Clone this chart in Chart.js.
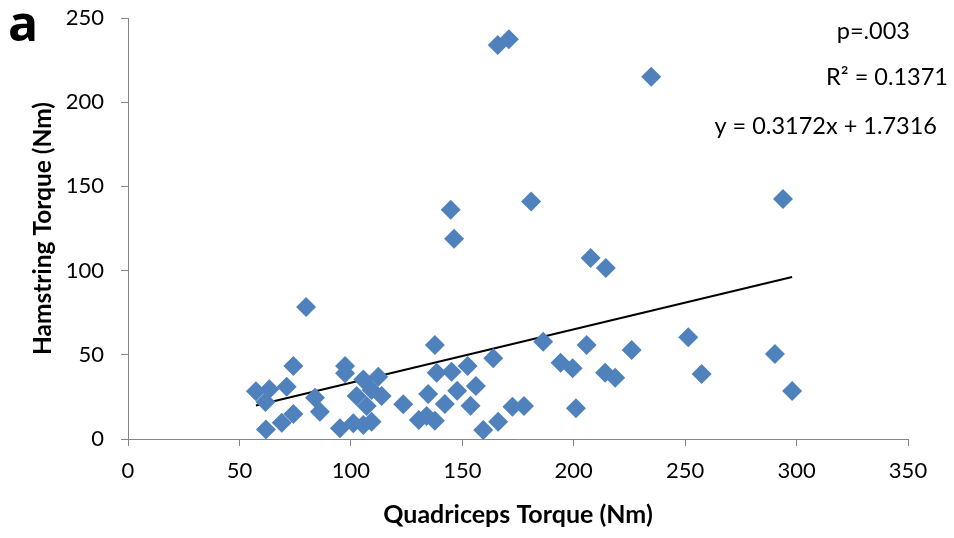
<!DOCTYPE html>
<html>
<head>
<meta charset="utf-8">
<script src="https://cdn.jsdelivr.net/npm/chart.js@4.4.0/dist/chart.umd.min.js"></script>
<style>
  html, body { margin: 0; padding: 0; background: #fff; }
  #wrap { width: 954px; height: 538px; position: relative; }
</style>
</head>
<body>
<div id="wrap"><canvas id="myChart" width="954" height="538"></canvas></div>
<script>
// quadriceps torque (x) and hamstring torque (y)
var quadTorque = [57.4, 63.4, 71.2, 74.2, 61.7, 83.9, 86.1, 61.9, 69, 74.2,
  79.9, 97.4, 97.4, 105.6, 112.3, 102.6, 109.3, 113.8, 107.1, 123.5,
  95.1, 101.1, 105.6, 109.3, 130.5, 137.7, 163.9, 138.5, 145.2, 152.4,
  134.7, 147.7, 156.1, 142.2, 153.7, 134, 137.7, 159.4, 166.1, 172.5,
  177.7, 186.3, 205.8, 226, 194.1, 199.5, 214.1, 218.6, 201, 251.4,
  257.4, 290.3, 298, 293.9, 165.9, 170.9, 234.8, 144.8, 180.9, 146.3,
  207.6, 214.4];
var hamTorque = [28.3, 29.5, 31.1, 43.3, 22, 24.5, 16.2, 5.7, 9.7, 14.8,
  78.4, 43.3, 39, 35.4, 37, 25.5, 29.1, 25.5, 19.6, 20.6,
  6.4, 9.3, 8.3, 10.3, 11.3, 55.8, 47.9, 39.4, 40, 43.3,
  26.7, 28.7, 31.5, 20.8, 19.8, 13.7, 10.9, 5.3, 10.3, 19.2,
  19.6, 57.8, 55.8, 52.8, 45.3, 42, 39.4, 36.4, 18.2, 60.4,
  38.6, 50.5, 28.5, 142.5, 234, 237.4, 215.1, 136.2, 141.1, 118.9,
  107.5, 101.5];

// linear trendline as printed on the chart
var trendSlope = 0.3172;
var trendIntercept = 1.7316;
var statLabels = ['p=.003', 'R\u00b2 = 0.1371', 'y = 0.3172x + 1.7316'];

var xTicks = [0, 50, 100, 150, 200, 250, 300, 350];
var yTicks = [0, 50, 100, 150, 200, 250];

var points = quadTorque.map(function(q, i) {
  return { x: q, y: hamTorque[i] };
});
var xMin = Math.min.apply(null, quadTorque);
var xMax = Math.max.apply(null, quadTorque);
var trend = [
  { x: xMin, y: trendSlope * xMin + trendIntercept },
  { x: xMax, y: trendSlope * xMax + trendIntercept }
];

var axisGray = '#868686';
var fontFam = 'Lato, "Open Sans", sans-serif';

// draws the panel letter and the regression stats
var textPlugin = {
  id: 'statText',
  afterDraw: function(chart) {
    var ctx = chart.ctx;
    ctx.save();
    ctx.fillStyle = '#000';
    ctx.textBaseline = 'middle';
    ctx.font = 'bold 50px "Open Sans", sans-serif';
    ctx.textAlign = 'left';
    ctx.fillText('a', 8, 27);
    ctx.font = '23.5px ' + fontFam;
    ctx.textAlign = 'right';
    ctx.fillText(statLabels[0], 910, 31);
    ctx.fillText(statLabels[1], 948, 77);
    ctx.fillText(statLabels[2], 937, 126);
    ctx.restore();
  }
};

var ctx = document.getElementById('myChart').getContext('2d');
var chart = new Chart(ctx, {
  type: 'scatter',
  data: {
    datasets: [{
        label: 'data',
        data: points,
        pointStyle: 'rectRot',
        pointRadius: 10,
        pointHoverRadius: 10,
        backgroundColor: '#4F81BD',
        borderWidth: 0
      },
      {
        label: 'trend',
        data: trend,
        showLine: true,
        pointRadius: 0,
        borderColor: '#000',
        borderWidth: 2
      }
    ]
  },
  options: {
    responsive: false,
    animation: false,
    events: [],
    layout: {
      padding: { top: 18, right: 46, left: 0, bottom: 0 }
    },
    plugins: {
      legend: { display: false },
      tooltip: { enabled: false }
    },
    scales: {
      x: {
        type: 'linear',
        min: 0,
        max: 350,
        afterBuildTicks: function(scale) {
          scale.ticks = xTicks.map(function(v) { return { value: v }; });
        },
        afterFit: function(scale) { scale.height = 99; },
        grid: { drawOnChartArea: false, tickLength: 7, color: axisGray },
        border: { color: axisGray, width: 1 },
        ticks: { color: '#000', padding: 12, font: { family: fontFam, size: 22 } },
        title: {
          display: true,
          text: 'Quadriceps Torque (Nm)',
          color: '#000',
          padding: { top: 0, bottom: 8 },
          font: { family: fontFam, size: 25, weight: 'bold' }
        }
      },
      y: {
        type: 'linear',
        min: 0,
        max: 250,
        afterBuildTicks: function(scale) {
          scale.ticks = yTicks.map(function(v) { return { value: v }; });
        },
        afterFit: function(scale) {
          scale.width = 128;
          // keep the plot top pinned to the layout padding
          scale.paddingTop = 0;
          scale.paddingBottom = 0;
        },
        grid: { drawOnChartArea: false, tickLength: 7, color: axisGray },
        border: { color: axisGray, width: 1 },
        ticks: { color: '#000', padding: 17, font: { family: fontFam, size: 22 } },
        title: {
          display: true,
          text: 'Hamstring Torque (Nm)',
          color: '#000',
          padding: { top: 28, bottom: 0 },
          font: { family: fontFam, size: 24.5, weight: 'bold' }
        }
      }
    }
  },
  plugins: [textPlugin]
});
</script>
</body>
</html>
